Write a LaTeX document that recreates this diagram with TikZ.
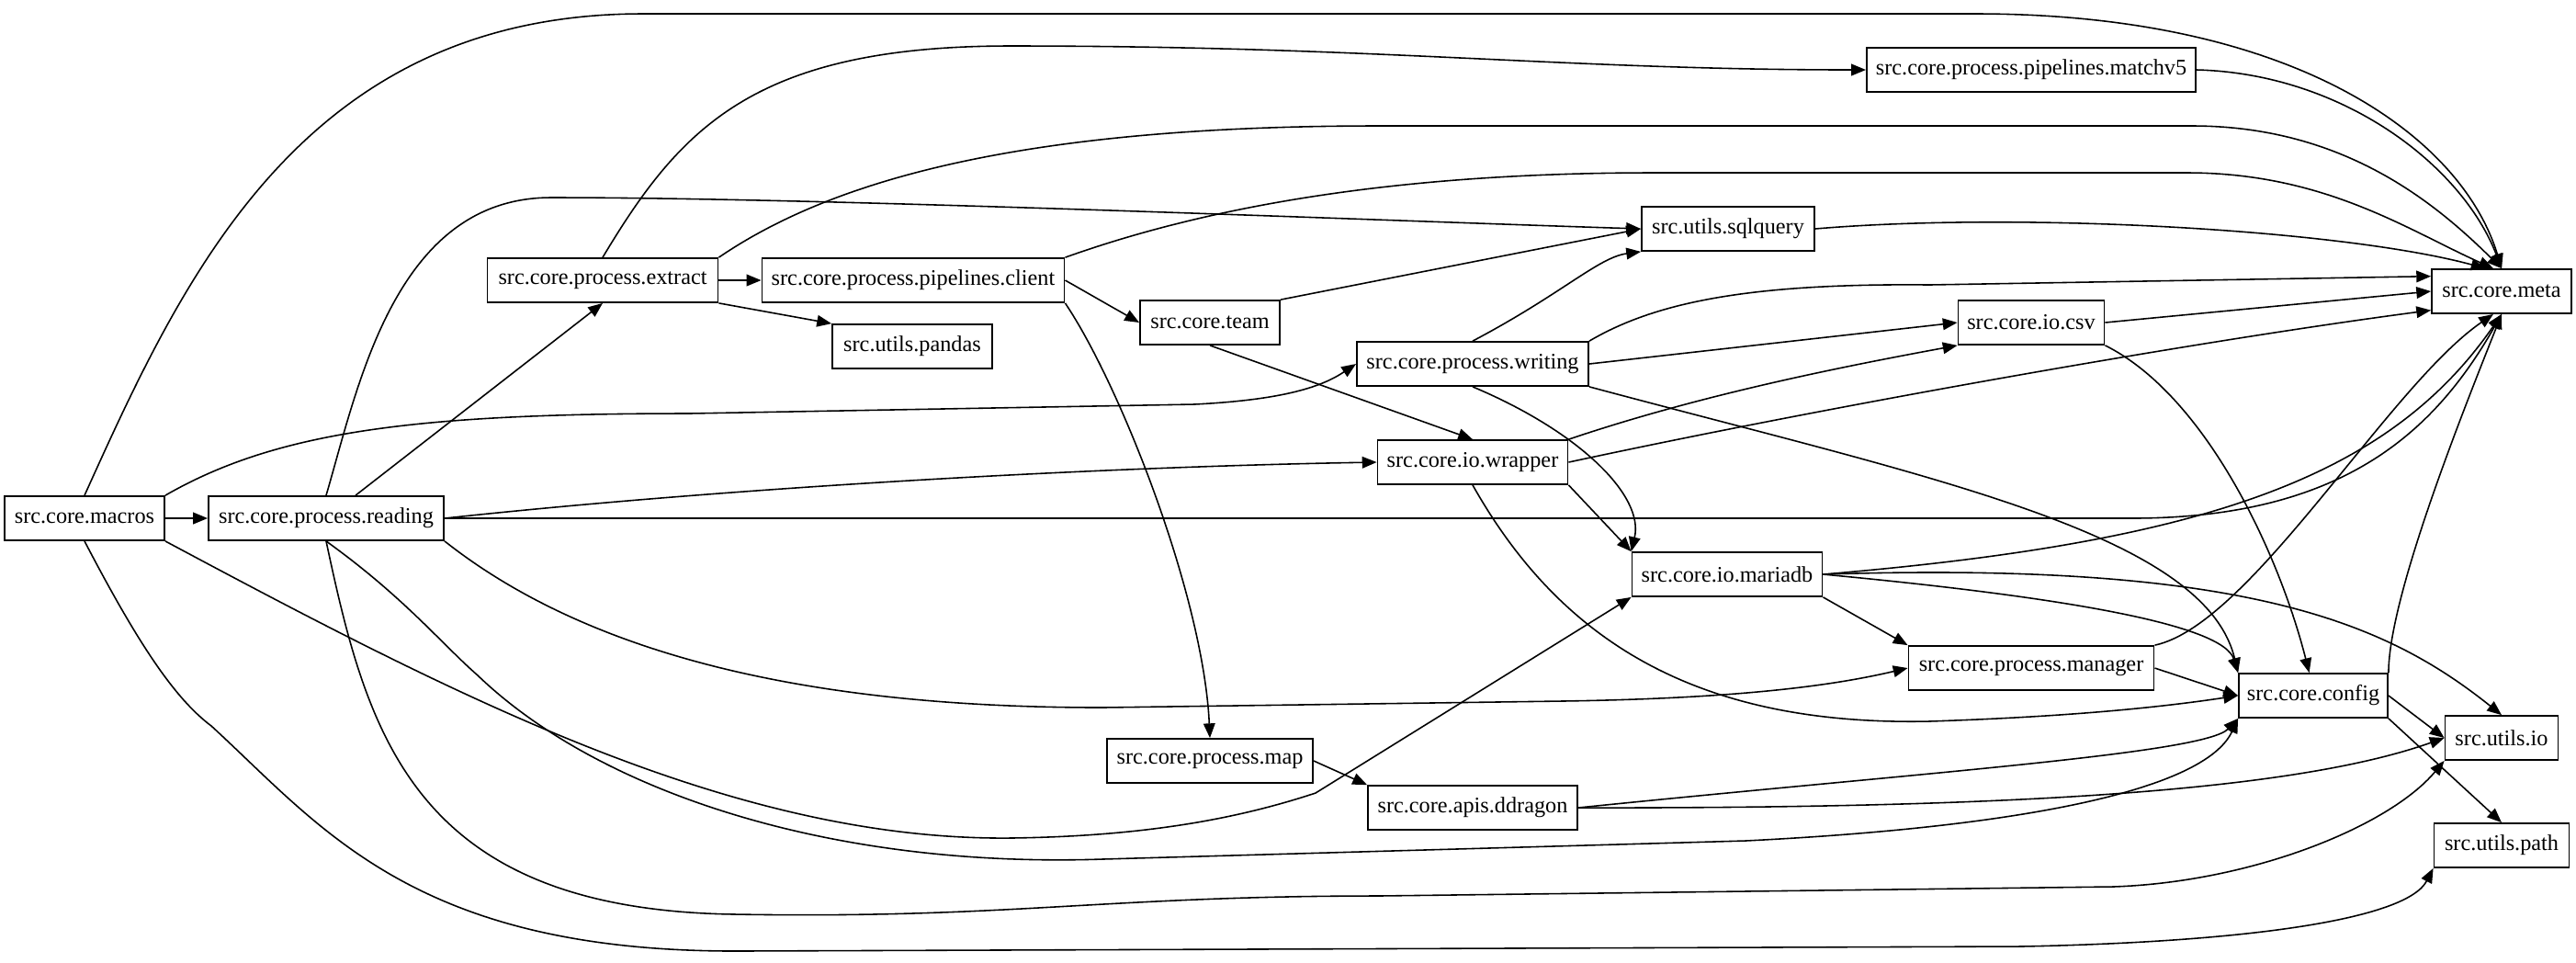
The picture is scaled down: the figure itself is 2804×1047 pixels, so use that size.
\documentclass[tikz,border=0pt]{standalone}
\usepackage{fontspec}
\setmainfont{Liberation Serif}
\usetikzlibrary{arrows.meta}
\begin{document}
\begin{tikzpicture}[x=0.01cm,y=-0.01cm,
 box/.style={draw,line width=0.5pt,minimum height=0.48cm,inner sep=1pt,font=\fontsize{6.9}{8}\selectfont},
 e/.style={-{Triangle[length=4.5pt,width=3.6pt]},line width=0.45pt}]
\useasboundingbox (0,0) rectangle (2804,1047);
\node[box,minimum width=1.74cm] (macros) at (92,564) {src.core.macros};
\node[box,minimum width=2.56cm] (reading) at (355,564) {src.core.process.reading};
\node[box,minimum width=2.51cm] (extract) at (656,305) {src.core.process.extract};
\node[box,minimum width=3.29cm] (client) at (994,305) {src.core.process.pipelines.client};
\node[box,minimum width=3.58cm] (matchv5) at (2211,76) {src.core.process.pipelines.matchv5};
\node[box,minimum width=1.88cm] (sqlquery) at (1881,249) {src.utils.sqlquery};
\node[box,minimum width=1.74cm] (pandas) at (993,377) {src.utils.pandas};
\node[box,minimum width=1.52cm] (team) at (1317,351) {src.core.team};
\node[box,minimum width=2.52cm] (writing) at (1603,396) {src.core.process.writing};
\node[box,minimum width=1.59cm] (csv) at (2211,351) {src.core.io.csv};
\node[box,minimum width=1.52cm] (meta) at (2723,317) {src.core.meta};
\node[box,minimum width=2.07cm] (wrapper) at (1603,503) {src.core.io.wrapper};
\node[box,minimum width=2.07cm] (mariadb) at (1880,625) {src.core.io.mariadb};
\node[box,minimum width=2.67cm] (manager) at (2211,727) {src.core.process.manager};
\node[box,minimum width=1.62cm] (config) at (2518,757) {src.core.config};
\node[box,minimum width=1.23cm] (uio) at (2723,803) {src.utils.io};
\node[box,minimum width=2.24cm] (map) at (1317,828) {src.core.process.map};
\node[box,minimum width=2.28cm] (ddragon) at (1603,879) {src.core.apis.ddragon};
\node[box,minimum width=1.47cm] (path) at (2723,920) {src.utils.path};
% macros
\draw[e] (macros.north) .. controls (200,300) and (330,15) .. (700,15) -- (2150,15) .. controls (2500,15) and (2680,150) .. (meta.north);
\draw[e] (macros) -- (reading);
\draw[e] (macros.north east) .. controls (300,470) and (450,450) .. (750,450) -- (1300,440) .. controls (1400,435) and (1440,420) .. (writing.west);
\draw[e] (macros.south east) .. controls (500,760) and (800,915) .. (1100,912) .. controls (1250,910) and (1350,890) .. (1432,863) -- (mariadb.south west);
\draw[e] (macros.south) .. controls (150,700) and (190,760) .. (230,790) .. controls (350,900) and (450,1035) .. (800,1035) -- (2200,1030) .. controls (2450,1025) and (2620,1000) .. (path.south west);
% reading
\draw[e] (reading.north) .. controls (390,420) and (430,215) .. (600,215) .. controls (900,215) and (1500,240) .. (sqlquery.west);
\draw[e] (reading) -- (extract.south);
\draw[e] (reading.east) .. controls (800,530) and (1200,508) .. (wrapper.west);
\draw[e] (reading.east) -- (2320,564) .. controls (2550,564) and (2650,470) .. (meta.south);
\draw[e] (reading.south east) .. controls (650,720) and (900,770) .. (1200,770) -- (1700,763) .. controls (1900,760) and (2000,745) .. (manager.west);
\draw[e] (reading.south) .. controls (440,650) and (480,700) .. (520,735) .. controls (650,860) and (900,945) .. (1200,935) -- (1900,915) .. controls (2200,900) and (2400,860) .. (config.south west);
\draw[e] (reading.south) .. controls (400,800) and (450,990) .. (800,995) .. controls (1100,1000) and (1200,975) .. (1500,975) -- (2300,965) .. controls (2450,960) and (2600,900) .. (uio.south west);
% extract
\draw[e] (extract.north) .. controls (740,140) and (820,50) .. (1100,50) .. controls (1500,50) and (1700,76) .. (matchv5.west);
\draw[e] (extract.north east) .. controls (900,200) and (1100,137) .. (1500,137) -- (2386,137) .. controls (2550,137) and (2650,220) .. (meta.north);
\draw[e] (extract) -- (client);
\draw[e] (extract.south east) -- (pandas.north west);
% client
\draw[e] (client.north east) .. controls (1300,230) and (1500,188) .. (1800,188) -- (2380,188) .. controls (2530,188) and (2620,250) .. (meta.110);
\draw[e] (client.east) -- (team.west);
\draw[e] (client.south east) .. controls (1220,420) and (1310,650) .. (map.north);
% team
\draw[e] (team.north east) -- (sqlquery.west);
\draw[e] (team.south) -- (wrapper.north);
% writing
\draw[e] (writing.north) .. controls (1700,320) and (1740,280) .. (sqlquery.south west);
\draw[e] (writing.north east) .. controls (1800,330) and (1900,308) .. (2100,310) -- (meta.168);
\draw[e] (writing.east) -- (csv.west);
\draw[e] (writing.south) .. controls (1720,470) and (1790,540) .. (mariadb.north west);
\draw[e] (writing.south east) .. controls (2100,520) and (2400,580) .. (config.north west);
% wrapper
\draw[e] (wrapper.north east) .. controls (1850,430) and (2000,400) .. (csv.south west);
\draw[e] (wrapper.east) .. controls (2000,440) and (2400,370) .. (meta.195);
\draw[e] (wrapper.south east) -- (mariadb.north west);
\draw[e] (wrapper.south) .. controls (1700,700) and (1850,790) .. (2100,785) .. controls (2250,780) and (2350,770) .. (config.west);
% others
\draw[e] (sqlquery.east) .. controls (2200,230) and (2550,250) .. (meta.125);
\draw[e] (csv.east) -- (meta.west);
\draw[e] (csv.south east) .. controls (2400,430) and (2480,600) .. (config.100);
\draw[e] (matchv5.east) .. controls (2550,80) and (2680,180) .. (meta.north);
\draw[e] (mariadb.east) .. controls (2400,590) and (2600,520) .. (meta.south);
\draw[e] (mariadb.south east) -- (manager.north west);
\draw[e] (mariadb.east) .. controls (2250,650) and (2420,680) .. (config.north west);
\draw[e] (mariadb.east) .. controls (2450,610) and (2600,680) .. (uio.north);
\draw[e] (manager.north east) .. controls (2450,680) and (2600,420) .. (meta.250);
\draw[e] (manager.east) -- (config.west);
\draw[e] (config.north east) .. controls (2600,650) and (2680,450) .. (meta.south);
\draw[e] (config.east) -- (uio.west);
\draw[e] (config.south east) -- (path.north);
\draw[e] (map.east) -- (ddragon.north west);
\draw[e] (ddragon.east) .. controls (2100,840) and (2400,820) .. (config.south west);
\draw[e] (ddragon.east) .. controls (2200,880) and (2500,860) .. (uio.west);
\end{tikzpicture}
\end{document}
